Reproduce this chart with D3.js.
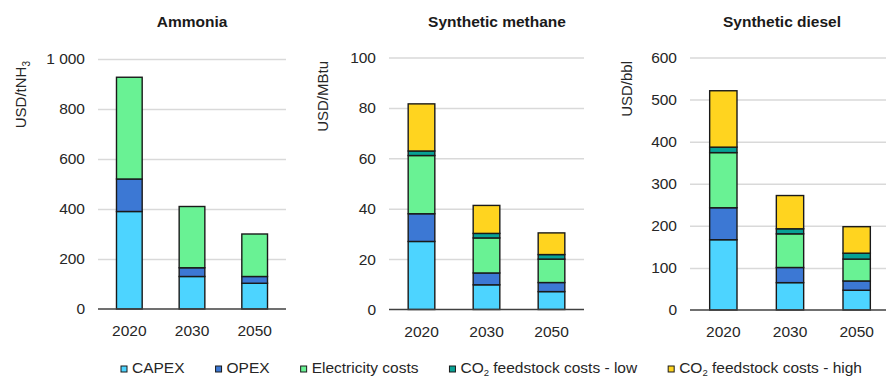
<!DOCTYPE html>
<html><head><meta charset="utf-8">
<script src="https://cdn.jsdelivr.net/npm/d3@7"></script>
<style>
html,body{margin:0;padding:0;background:#fff;}
svg{display:block;font-family:"Liberation Sans",Arial,sans-serif;}
</style></head>
<body><svg id="chart" width="886" height="378"></svg>
<script>
const categories = ["2020", "2030", "2050"];
const seriesKeys = ["capex", "opex", "electricity", "co2Low", "co2High"];
const seriesColors = ["#4dd4ff", "#3c78d4", "#69f294", "#08a295", "#ffd41f"];

const ammoniaCapex = [390, 130, 103];
const ammoniaOpex = [130, 35, 27];
const ammoniaElectricity = [407, 245, 170];
const ammoniaCo2Low = [0, 0, 0];
const ammoniaCo2High = [0, 0, 0];
const ammoniaTicks = [0, 200, 400, 600, 800, 1000];

const methaneCapex = [27, 9.8, 7.1];
const methaneOpex = [11, 4.7, 3.6];
const methaneElectricity = [23.1, 13.9, 9.3];
const methaneCo2Low = [1.8, 1.8, 1.8];
const methaneCo2High = [18.7, 11.1, 8.6];
const methaneTicks = [0, 20, 40, 60, 80, 100];

const dieselCapex = [167, 65, 47];
const dieselOpex = [76, 36, 22];
const dieselElectricity = [131, 80, 52];
const dieselCo2Low = [13, 12, 14];
const dieselCo2High = [134, 79, 63];
const dieselTicks = [0, 100, 200, 300, 400, 500, 600];

const svg = d3.select("#chart");
const fmt = v => v >= 1000 ? d3.format(",")(v).replace(/,/g, " ") : String(v);

const panels = [
  {title: "Ammonia", unit: ["USD/tNH", "3"], series: [ammoniaCapex, ammoniaOpex, ammoniaElectricity, ammoniaCo2Low, ammoniaCo2High],
   ticks: ammoniaTicks, x0: 98, x1: 286, yTop: 59, yBot: 309, titleX: 192, axisX: 26},
  {title: "Synthetic methane", unit: ["USD/MBtu"], series: [methaneCapex, methaneOpex, methaneElectricity, methaneCo2Low, methaneCo2High],
   ticks: methaneTicks, x0: 389, x1: 584, yTop: 57.5, yBot: 309.5, titleX: 497, axisX: 328},
  {title: "Synthetic diesel", unit: ["USD/bbl"], series: [dieselCapex, dieselOpex, dieselElectricity, dieselCo2Low, dieselCo2High],
   ticks: dieselTicks, x0: 690, x1: 890, yTop: 57.5, yBot: 310, titleX: 782, axisX: 632}
];

panels.forEach(p => {
  const rows = categories.map((c, i) => {
    const r = {cat: c};
    seriesKeys.forEach((k, j) => r[k] = p.series[j][i]);
    return r;
  });
  const x = d3.scaleBand().domain(categories).range([p.x0, p.x1]).paddingInner(0.59).paddingOuter(0.295);
  const maxT = p.ticks[p.ticks.length - 1];
  const y = d3.scaleLinear().domain([0, maxT]).range([p.yBot, p.yTop]);
  const g = svg.append("g");

  // gridlines
  g.append("g").attr("transform", `translate(${p.x0},0)`)
    .call(d3.axisLeft(y).tickValues(p.ticks.filter(t => t > 0)).tickSize(-(Math.min(p.x1, 886) - p.x0)).tickFormat(""))
    .call(a => a.select(".domain").remove())
    .call(a => a.selectAll("line").attr("stroke", "#d9d9d9").attr("stroke-width", 1.5));

  // y tick labels
  g.append("g").attr("transform", `translate(${p.x0 - 13},0)`)
    .call(d3.axisLeft(y).tickValues(p.ticks).tickSize(0).tickPadding(0).tickFormat(fmt))
    .call(a => a.select(".domain").remove())
    .call(a => a.selectAll("text").attr("font-size", 15.5).attr("fill", "#262626").attr("font-family", "Liberation Sans, Arial, sans-serif"));

  // stacked bars
  const stack = d3.stack().keys(seriesKeys)(rows);
  stack.forEach((layer, j) => {
    g.append("g").selectAll("rect").data(layer.filter(d => d[1] - d[0] > 0)).join("rect")
      .attr("x", d => x(d.data.cat))
      .attr("width", x.bandwidth())
      .attr("y", d => y(d[1]))
      .attr("height", d => y(d[0]) - y(d[1]))
      .attr("fill", seriesColors[j])
      .attr("stroke", "#1a1a1a")
      .attr("stroke-width", 1.4);
  });

  // baseline axis
  g.append("g").attr("transform", `translate(0,${p.yBot})`)
    .call(d3.axisBottom(x).tickSize(0).tickPadding(16))
    .call(a => a.select(".domain").attr("d", `M${p.x0},0H${Math.min(p.x1, 886)}`).attr("stroke", "#404040").attr("stroke-width", 1.5))
    .call(a => a.selectAll("text").attr("font-size", 15.5).attr("fill", "#262626").attr("font-family", "Liberation Sans, Arial, sans-serif"));

  // title
  g.append("text").attr("x", p.titleX).attr("y", 27).attr("text-anchor", "middle")
    .attr("font-weight", "bold").attr("font-size", 15.5).attr("fill", "#1a1a1a").text(p.title);

  // unit
  const ut = g.append("text").attr("transform", `translate(${p.axisX},61) rotate(-90)`)
    .attr("text-anchor", "end").attr("font-size", 15).attr("fill", "#262626");
  ut.append("tspan").text(p.unit[0]);
  if (p.unit[1]) ut.append("tspan").attr("font-size", 10).attr("dy", 4).text(p.unit[1]);
});

// legend
const legendLabels = [["CAPEX"], ["OPEX"], ["Electricity costs"], ["CO", "2", " feedstock costs - low"], ["CO", "2", " feedstock costs - high"]];
let lx = 121;
const lg = svg.append("g");
legendLabels.forEach((lab, i) => {
  const item = lg.append("g").attr("transform", `translate(${lx},0)`);
  item.append("rect").attr("x", 0).attr("y", 366).attr("width", 6).attr("height", 6)
    .attr("fill", seriesColors[i]).attr("stroke", "#1a1a1a").attr("stroke-width", 1);
  const t = item.append("text").attr("x", 11).attr("y", 373).attr("font-size", 15.5).attr("fill", "#262626");
  t.append("tspan").text(lab[0]);
  if (lab.length > 1) {
    t.append("tspan").attr("font-size", 9.5).attr("dy", 3).text(lab[1]);
    t.append("tspan").attr("dy", -3).text(lab[2]);
  }
  lx += 11 + t.node().getComputedTextLength() + 31;
});
</script>
</body></html>
